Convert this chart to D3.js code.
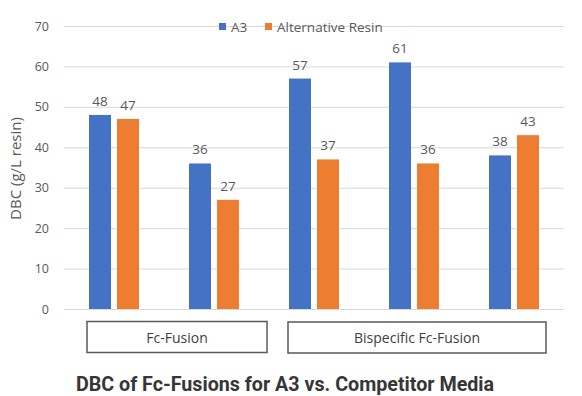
<!DOCTYPE html>
<html>
<head>
<meta charset="utf-8">
<script src="https://cdn.jsdelivr.net/npm/d3@7"></script>
<style>
  html, body { margin: 0; padding: 0; background: #fff; }
  svg { display: block; }
</style>
</head>
<body>
<svg id="chart" width="582" height="396"></svg>
<script>
// ---- data ----
const categories = ["Fc-Fusion A", "Fc-Fusion B", "Bispecific A", "Bispecific B", "Bispecific C"];
const seriesNames = ["A3", "Alternative Resin"];
const a3Values = [48, 36, 57, 61, 38];
const altValues = [47, 27, 37, 36, 43];
const yTicks = [0, 10, 20, 30, 40, 50, 60, 70];
const groupLabels = ["Fc-Fusion", "Bispecific Fc-Fusion"];
const groupStart = [0, 2];
const groupEnd = [1, 4];
const titleText = "DBC of Fc-Fusions for A3 vs. Competitor Media";
const yTitle = "DBC (g/L resin)";

// ---- layout ----
const colors = ["#4472C4", "#ED7D31"];
const svg = d3.select("#chart");
const plotL = 64, plotR = 564, plotT = 26, plotB = 309;
const labelFont = "'Open Sans', 'Noto Sans', sans-serif";
const textColor = "#595959";

const y = d3.scaleLinear().domain([0, 70]).range([plotB, plotT]);
const x0 = d3.scaleBand().domain(categories).range([plotL, plotR]).padding(0);
const bw = x0.bandwidth();
const x1 = d3.scaleBand().domain(seriesNames)
  .range([bw / 2 - 25, bw / 2 + 25]).paddingInner(0.214).paddingOuter(0);

// gridlines
svg.append("g").selectAll("line").data(yTicks).join("line")
  .attr("x1", plotL).attr("x2", plotR)
  .attr("y1", d => y(d) + 0.5).attr("y2", d => y(d) + 0.5)
  .attr("stroke", "#d9d9d9").attr("stroke-width", 1);

// y axis tick labels
const yAxis = d3.axisLeft(y).tickValues(yTicks).tickSize(0).tickPadding(0);
const yg = svg.append("g").attr("transform", `translate(${plotL - 15},0)`).call(yAxis);
yg.select(".domain").remove();
yg.selectAll("text")
  .attr("fill", textColor).style("font-family", labelFont).style("font-size", "12.5px");

// y axis title
svg.append("text")
  .attr("transform", `translate(21,${(plotT + plotB) / 2 + 1}) rotate(-90)`)
  .attr("text-anchor", "middle")
  .attr("fill", textColor).style("font-family", labelFont).style("font-size", "15px")
  .text(yTitle);

// bars
const rows = categories.map((c, i) => ({ c, vals: [a3Values[i], altValues[i]] }));
const gCat = svg.append("g").selectAll("g").data(rows).join("g")
  .attr("transform", d => `translate(${x0(d.c)},0)`);
gCat.selectAll("rect").data(d => d.vals.map((v, j) => ({ s: seriesNames[j], v, j })))
  .join("rect")
  .attr("x", d => x1(d.s)).attr("width", x1.bandwidth())
  .attr("y", d => y(d.v)).attr("height", d => y(0) - y(d.v))
  .attr("fill", d => colors[d.j]);
gCat.selectAll("text").data(d => d.vals.map((v, j) => ({ s: seriesNames[j], v, j })))
  .join("text")
  .attr("x", d => x1(d.s) + x1.bandwidth() / 2)
  .attr("y", d => y(d.v) - 9)
  .attr("text-anchor", "middle")
  .attr("fill", textColor).style("font-family", labelFont).style("font-size", "13.5px")
  .text(d => d.v);

// legend
const legend = svg.append("g");
const legItems = [{ x: 219, name: seriesNames[0] }, { x: 265, name: seriesNames[1] }];
legItems.forEach((it, i) => {
  legend.append("rect").attr("x", it.x).attr("y", y(70) - 3).attr("width", 7).attr("height", 7)
    .attr("fill", colors[i]);
  legend.append("text").attr("x", it.x + 12).attr("y", y(70) + 5.5)
    .attr("fill", textColor).style("font-family", labelFont).style("font-size", "13.5px")
    .text(it.name);
});

// group boxes
const boxInsetL = [23, 24];
const boxInsetR = [3, -18];
groupLabels.forEach((lab, i) => {
  const left = x0(categories[groupStart[i]]) + boxInsetL[i];
  const right = x0(categories[groupEnd[i]]) + bw + boxInsetR[i];
  const top = 321.5 + i * 0.5;
  svg.append("rect").attr("x", left).attr("y", top).attr("width", right - left).attr("height", 31)
    .attr("fill", "#fff").attr("stroke", "#5a5a5a").attr("stroke-width", 1.5);
  svg.append("text").attr("x", (left + right) / 2).attr("y", top + 21)
    .attr("text-anchor", "middle")
    .attr("fill", "#404040").style("font-family", labelFont).style("font-size", "14px")
    .text(lab);
});

// title
svg.append("text").attr("x", 285).attr("y", 391)
  .attr("text-anchor", "middle")
  .attr("fill", "#363636").style("font-family", "Roboto, sans-serif").style("font-weight", "700")
  .style("font-size", "19.7px")
  .text(titleText);
</script>
</body>
</html>
